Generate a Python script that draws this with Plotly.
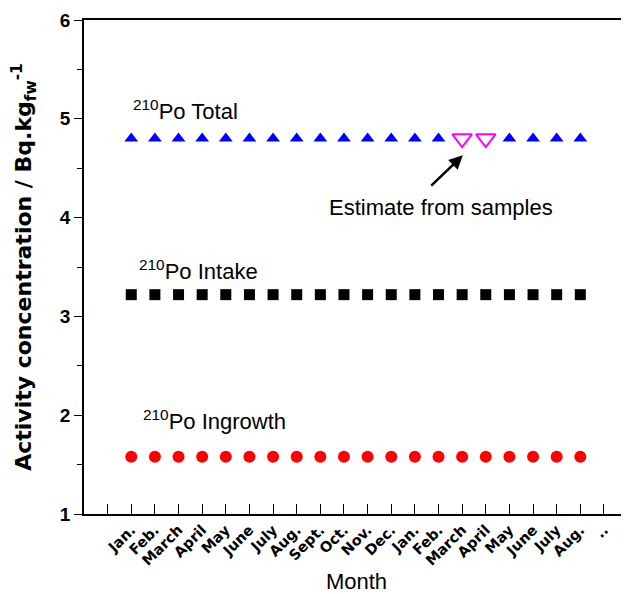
import plotly.graph_objects as go

# ---- data ----
months = ["Jan.", "Feb.", "March", "April", "May", "June", "July", "Aug.",
          "Sept.", "Oct.", "Nov.", "Dec.", "Jan.", "Feb.", "March", "April",
          "May", "June", "July", "Aug."]
trailing_labels = ["..", "."]

po_total = [4.80, 4.80, 4.80, 4.80, 4.80, 4.80, 4.80, 4.80, 4.80, 4.80,
            4.80, 4.80, 4.80, 4.80, 4.80, 4.80, 4.80, 4.80, 4.80, 4.80]
total_is_estimate = [False, False, False, False, False, False, False, False,
                     False, False, False, False, False, False, True, True,
                     False, False, False, False]
po_intake = [3.22, 3.22, 3.22, 3.22, 3.22, 3.22, 3.22, 3.22, 3.22, 3.22,
             3.22, 3.22, 3.22, 3.22, 3.22, 3.22, 3.22, 3.22, 3.22, 3.22]
po_ingrowth = [1.58, 1.58, 1.58, 1.58, 1.58, 1.58, 1.58, 1.58, 1.58, 1.58,
               1.58, 1.58, 1.58, 1.58, 1.58, 1.58, 1.58, 1.58, 1.58, 1.58]

# month positions on the axis (first month at 1, blank tick at 0)
pos = list(range(1, len(months) + 1))
tick_vals = [0] + pos + [len(months) + 1 + i for i in range(len(trailing_labels))]
tick_text = [""] + months + trailing_labels

meas_x = [p for p, e in zip(pos, total_is_estimate) if not e]
meas_y = [v for v, e in zip(po_total, total_is_estimate) if not e]
est_x = [p for p, e in zip(pos, total_is_estimate) if e]
est_y = [v for v, e in zip(po_total, total_is_estimate) if e]

fig = go.Figure()
fig.add_trace(go.Scatter(x=pos, y=po_ingrowth, mode="markers", name="210Po Ingrowth",
                         marker=dict(symbol="circle", size=12, color="#ff0000")))
fig.add_trace(go.Scatter(x=pos, y=po_intake, mode="markers", name="210Po Intake",
                         marker=dict(symbol="square", size=11, color="#000000")))
fig.add_trace(go.Scatter(x=meas_x, y=meas_y, mode="markers", name="210Po Total",
                         marker=dict(symbol="triangle-up", size=12, color="#0000ff")))
fig.add_trace(go.Scatter(x=est_x, y=est_y, mode="markers", name="Estimate",
                         marker=dict(symbol="triangle-down-open", size=17,
                                     color="#ff00ff", line=dict(width=2, color="#ff00ff"))))
# invisible trace to carry the right-hand tick axis
fig.add_trace(go.Scatter(x=[], y=[], yaxis="y2", showlegend=False, hoverinfo="skip"))

label_font = dict(family="Liberation Sans, Arial, sans-serif", size=22, color="#000000")
ann = [
    dict(x=1.0, y=4.93, text="<sup>210</sup>Po Total"),
    dict(x=1.23, y=3.31, text="<sup>210</sup>Po Intake"),
    dict(x=1.40, y=1.79, text="<sup>210</sup>Po Ingrowth"),
    dict(x=9.3, y=3.96, text="Estimate from samples"),
]
annotations = [dict(xref="x", yref="y", xanchor="left", yanchor="bottom",
                    showarrow=False, font=label_font, **a) for a in ann]
annotations.append(dict(xref="x", yref="y", x=15.03, y=4.63, ax=13.63, ay=4.31,
                        axref="x", ayref="y", text="", showarrow=True,
                        arrowhead=2, arrowsize=1.1, arrowwidth=2.5,
                        arrowcolor="#000000", standoff=0, startstandoff=0))

# the page body adds an 8 px offset, so the figure is 8 px smaller in each direction
fig.update_layout(
    width=621, height=586,
    margin=dict(l=76, r=0, t=12, b=80, autoexpand=False),
    paper_bgcolor="white", plot_bgcolor="white",
    showlegend=False,
    annotations=annotations,
    xaxis=dict(
        range=[-1, 22.06], tickmode="array", tickvals=tick_vals, ticktext=tick_text,
        tickangle=-45, ticks="inside", ticklen=10, tickwidth=1, tickcolor="black",
        showline=True, linewidth=1.5, linecolor="black", mirror=True,
        showgrid=False, zeroline=False, automargin=False,
        tickfont=dict(family="DejaVu Sans, sans-serif", size=14.5, color="black", weight="bold"),
        title=dict(text="Month", standoff=12,
                   font=dict(family="Liberation Sans, Arial, sans-serif", size=22, color="black")),
    ),
    yaxis=dict(
        range=[1, 6], dtick=1, ticks="outside", ticklen=8, tickwidth=1, tickcolor="black",
        minor=dict(dtick=0.5, ticks="outside", ticklen=5, tickwidth=1, tickcolor="black"),
        showline=True, linewidth=1.5, linecolor="black", mirror=False,
        showgrid=False, zeroline=False, automargin=False,
        tickfont=dict(family="Liberation Sans, Arial, sans-serif", size=19, color="black", weight="bold"),
        title=dict(text="Activity concentration / Bq.kg<sub>fw</sub><sup>-1</sup>", standoff=24,
                   font=dict(family="DejaVu Sans, sans-serif", size=22, color="black", weight="bold")),
    ),
    yaxis2=dict(
        range=[1, 6], dtick=1, overlaying="y", side="right", anchor="x",
        ticks="inside", ticklen=7, tickwidth=1, tickcolor="black",
        minor=dict(dtick=0.5, ticks="inside", ticklen=4, tickwidth=1, tickcolor="black"),
        showticklabels=False, showline=False, showgrid=False, zeroline=False,
        automargin=False,
    ),
)

fig.write_html("out.html")
